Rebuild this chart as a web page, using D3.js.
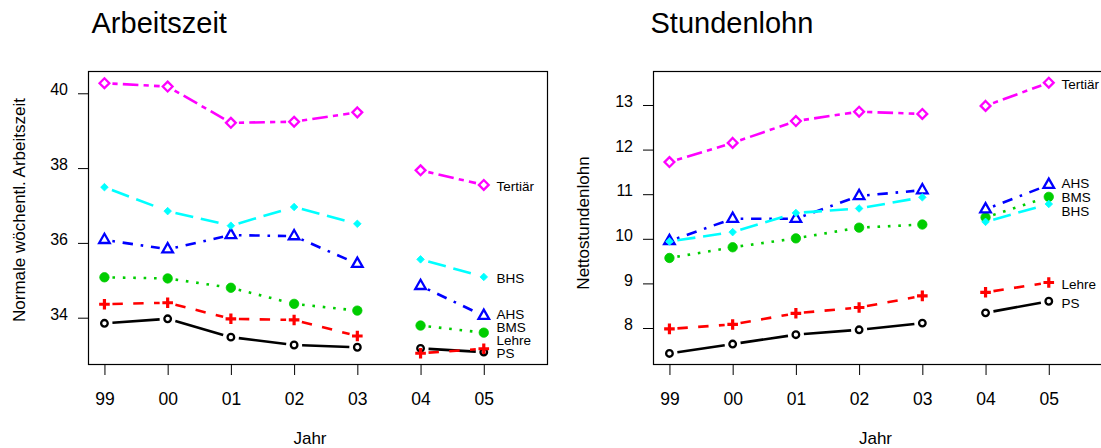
<!DOCTYPE html>
<html lang="de">
<head>
  <meta charset="UTF-8">
  <title>Arbeitszeit und Stundenlohn</title>
  <script src="https://d3js.org/d3.v7.min.js"></script>
  <style>
    body {
      margin: 0;
      background: #fff;
      font-family: "Liberation Sans", Arial, Helvetica, sans-serif;
    }
    svg text {
      fill: #000;
    }
  </style>
</head>
<body>
  <div id="chart"></div>

  <script>
    // Werte
    const jahre = ["99", "00", "01", "02", "03", "04", "05"];
    const gruppen = ["PS", "Lehre", "BMS", "AHS", "BHS", "Tertiär"];

    // Normale wöchentliche Arbeitszeit
    const azPS       = [33.85, 33.97, 33.48, 33.27, 33.21, 33.18, 33.08];
    const azLehre    = [34.36, 34.40, 33.97, 33.94, 33.51, 33.05, 33.17];
    const azBMS      = [35.08, 35.05, 34.80, 34.37, 34.19, 33.79, 33.60];
    const azAHS      = [36.08, 35.83, 36.21, 36.18, 35.44, 34.85, 34.05];
    const azBHS      = [37.49, 36.85, 36.46, 36.96, 36.51, 35.56, 35.09];
    const azTertiaer = [40.27, 40.18, 39.21, 39.24, 39.49, 37.94, 37.55];
    const azTicks = [34, 36, 38, 40];

    // Nettostundenlohn
    const slPS       = [7.43, 7.64, 7.85, 7.96, 8.11, 8.34, 8.60];
    const slLehre    = [7.98, 8.08, 8.33, 8.46, 8.72, 8.80, 9.02];
    const slBMS      = [9.57, 9.81, 10.01, 10.25, 10.32, 10.48, 10.94];
    const slAHS      = [9.95, 10.45, 10.45, 10.96, 11.09, 10.66, 11.21];
    const slBHS      = [9.94, 10.15, 10.58, 10.68, 10.93, 10.38, 10.78];
    const slTertiaer = [11.72, 12.15, 12.64, 12.85, 12.80, 12.98, 13.50];
    const slTicks = [8, 9, 10, 11, 12, 13];

    // Reihe unterbrochen zwischen 03 und 04
    const abschnitte = [[0, 4], [5, 6]];

    // R-Standardpalette, lty 1:6, pch
    const farben = ["#000000", "#ff0000", "#00cd00", "#0000ff", "#00ffff", "#ff00ff"];
    const lty = [[], [4, 4], [1, 3], [1, 3, 4, 3], [7, 3], [2, 2, 6, 2]];
    const pch = ["kreis", "plus", "punkt", "dreieck", "raute", "rautenrahmen"];

    const lwd = 2.6;
    const width = 1101, height = 448;

    const svg = d3.select("#chart").append("svg")
      .attr("width", width)
      .attr("height", height);

    svg.append("rect").attr("width", width).attr("height", height).attr("fill", "#fff");

    function markerPath(typ) {
      switch (typ) {
        case "kreis": return d3.arc()({innerRadius: 0, outerRadius: 3.3, startAngle: 0, endAngle: 2 * Math.PI});
        case "punkt": return d3.arc()({innerRadius: 0, outerRadius: 4.7, startAngle: 0, endAngle: 2 * Math.PI});
        case "plus": return "M-5.3,0H5.3M0,-5.3V5.3";
        case "dreieck": return "M0,-6.2L5.3,3.1L-5.3,3.1Z";
        case "raute": return "M0,-3.8L3.8,0L0,3.8L-3.8,0Z";
        case "rautenrahmen": return "M0,-4.9L4.9,0L0,4.9L-4.9,0Z";
      }
    }

    // Beschriftungen auseinanderschieben, die unterste bleibt auf ihrem Wert
    function spreadLabels(items, minGap) {
      const s = items.slice().sort((a, b) => a.y - b.y);
      const n = s.length;
      for (let k = 0; k < 300; k++) {
        for (let i = 1; i < n; i++) {
          const d = s[i].y - s[i - 1].y;
          if (d < minGap) {
            if (i === n - 1) {
              s[i - 1].y -= (minGap - d);
            } else {
              const sh = (minGap - d) / 2;
              s[i - 1].y -= sh;
              s[i].y += sh;
            }
          }
        }
      }
      return items;
    }

    function panel(cfg) {
      const x = d3.scaleLinear().domain([-0.26, 7]).range([cfg.left, cfg.left + 459]);
      const y = d3.scaleLinear().domain(cfg.ydomain).range([364, 71]);

      const g = svg.append("g");

      // Titel
      g.append("text")
        .attr("x", cfg.titleX)
        .attr("y", 32.5)
        .style("font-size", "29px")
        .text(cfg.title);

      // Rahmen
      g.append("rect")
        .attr("x", x.range()[0] + 0.5)
        .attr("y", 71.5)
        .attr("width", 459)
        .attr("height", 293)
        .attr("fill", "none")
        .attr("stroke", "#000")
        .attr("stroke-width", 1.2);

      // x-Achse
      const xAxis = g.append("g")
        .attr("transform", "translate(0,364.5)")
        .call(d3.axisBottom(x)
          .tickValues(d3.range(jahre.length))
          .tickFormat(i => jahre[i])
          .tickSize(10.5)
          .tickPadding(17.4));
      xAxis.select(".domain").attr("d", `M${x(0)},0H${x(jahre.length - 1)}`).attr("stroke", "#000");
      xAxis.selectAll("text").style("font-size", "17.5px").style("font-family", "inherit");

      // y-Achse
      const yAxis = g.append("g")
        .attr("transform", `translate(${x.range()[0] + 0.5},0)`)
        .call(d3.axisLeft(y)
          .tickValues(cfg.ticks)
          .tickFormat(d3.format("d"))
          .tickSize(10.5)
          .tickPadding(10));
      yAxis.select(".domain")
        .attr("d", `M0,${y(cfg.ticks[0])}V${y(cfg.ticks[cfg.ticks.length - 1])}`)
        .attr("stroke", "#000");
      yAxis.selectAll("text")
        .attr("dy", "0.1em")
        .style("font-size", "16px")
        .style("font-family", "inherit");

      // Achsentitel
      g.append("text")
        .attr("text-anchor", "middle")
        .attr("x", cfg.jahrX)
        .attr("y", 443.5)
        .style("font-size", "17px")
        .text("Jahr");

      g.append("text")
        .attr("text-anchor", "middle")
        .attr("transform", `translate(${cfg.ylabX},${cfg.ylabY}) rotate(-90)`)
        .style("font-size", "17px")
        .text(cfg.ylabel);

      // Linien (type = "b": Lücken um die Punkte)
      const gap = 8;
      const line = d3.line();
      cfg.series.forEach((werte, si) => {
        abschnitte.forEach(([a, b]) => {
          for (let i = a; i < b; i++) {
            const x0 = x(i), y0 = y(werte[i]), x1 = x(i + 1), y1 = y(werte[i + 1]);
            const len = Math.hypot(x1 - x0, y1 - y0);
            if (len <= 2 * gap) continue;
            const ux = (x1 - x0) / len, uy = (y1 - y0) / len;
            g.append("path")
              .attr("d", line([[x0 + ux * gap, y0 + uy * gap], [x1 - ux * gap, y1 - uy * gap]]))
              .attr("fill", "none")
              .attr("stroke", farben[si])
              .attr("stroke-width", lwd)
              .attr("stroke-dasharray", lty[si].map(v => v * lwd).join(","));
          }
        });
      });

      // Punkte
      cfg.series.forEach((werte, si) => {
        const typ = pch[si];
        const gefuellt = typ === "punkt" || typ === "raute";
        g.append("g").selectAll("path")
          .data(werte)
          .join("path")
          .attr("transform", (v, i) => `translate(${x(i)},${y(v)})`)
          .attr("d", markerPath(typ))
          .attr("fill", gefuellt ? farben[si] : "none")
          .attr("stroke", farben[si])
          .attr("stroke-width", typ === "plus" ? 3.2 : (gefuellt ? 0.8 : 2.3));
      });

      // Beschriftungen rechts
      const last = jahre.length - 1;
      const labels = spreadLabels(cfg.series.map((w, si) => ({name: gruppen[si], y: y(w[last])})), cfg.minGap);
      g.append("g").selectAll("text")
        .data(labels)
        .join("text")
        .attr("x", x(last) + 12.8)
        .attr("y", d => d.y + 1.5)
        .attr("dy", "0.36em")
        .style("font-size", "13.5px")
        .text(d => d.name);
    }

    panel({
      title: "Arbeitszeit",
      titleX: 91.5,
      left: 88,
      ydomain: [32.762, 40.596],
      ticks: azTicks,
      ylabel: "Normale wöchentl. Arbeitszeit",
      ylabX: 24.5,
      ylabY: 210,
      jahrX: 310,
      minGap: 13.2,
      series: [azPS, azLehre, azBMS, azAHS, azBHS, azTertiaer]
    });

    panel({
      title: "Stundenlohn",
      titleX: 650.5,
      left: 653,
      ydomain: [7.193, 13.762],
      ticks: slTicks,
      ylabel: "Nettostundenlohn",
      ylabX: 589,
      ylabY: 223,
      jahrX: 875.5,
      minGap: 14,
      series: [slPS, slLehre, slBMS, slAHS, slBHS, slTertiaer]
    });
  </script>
</body>
</html>
